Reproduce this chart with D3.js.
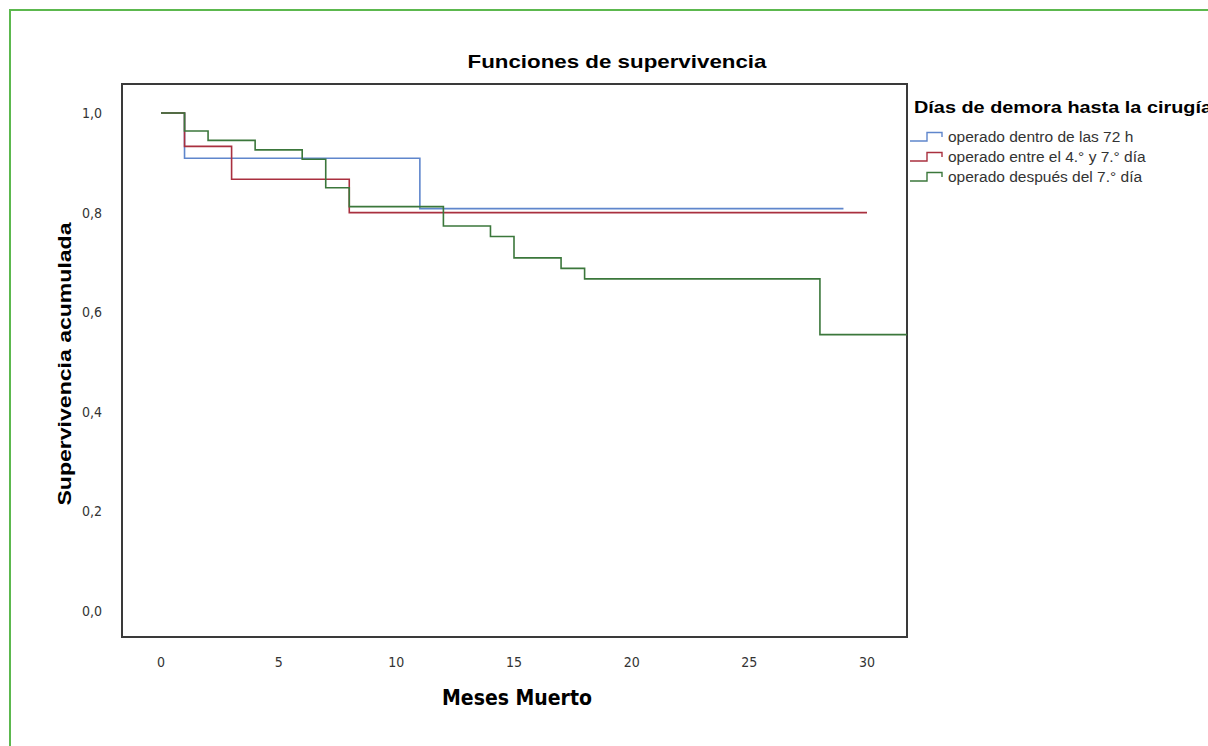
<!DOCTYPE html>
<html>
<head>
<meta charset="utf-8">
<script src="https://cdn.jsdelivr.net/npm/d3@7"></script>
<style>
body{margin:0;background:#fff;}
svg{display:block;}
text{font-family:"Liberation Sans",Arial,sans-serif;}
</style>
</head>
<body>
<svg id="chart" width="1208" height="746"></svg>
<script>
// survival data (months, cumulative survival)
var blueTimes=[0,1,11,29];
var blueSurv=[1,0.909,0.808,0.808];
var redTimes=[0,1,3,8,30];
var redSurv=[1,0.933,0.867,0.800,0.800];
var greenTimes=[0,1,2,4,6,7,8,12,14,15,17,18,28,31.7];
var greenSurv=[1,0.964,0.945,0.926,0.907,0.850,0.812,0.773,0.752,0.709,0.688,0.667,0.555,0.555];

var groupNames=['operado dentro de las 72 h','operado entre el 4.° y 7.° día','operado después del 7.° día'];
var groupColors=['#5f86cc','#a9303f','#3b773b'];
var xTicks=[0,5,10,15,20,25,30];
var yTicks=[0,0.2,0.4,0.6,0.8,1.0];

var svg=d3.select('#chart');

// green outer frame
svg.append('rect')
    .attr('x',10).attr('y',10)
    .attr('width',1260).attr('height',800)
    .attr('fill','none')
    .attr('stroke','#5cb84e')
    .attr('stroke-width',2);

var x=d3.scaleLinear().domain([0,30]).range([161,867]);
var y=d3.scaleLinear().domain([0,1]).range([611,113]);

var pLeft=122,pRight=907,pTop=84,pBottom=637;

// plot frame
svg.append('rect')
    .attr('x',pLeft).attr('y',pTop)
    .attr('width',pRight-pLeft).attr('height',pBottom-pTop)
    .attr('fill','none')
    .attr('stroke','#3a3a3a')
    .attr('stroke-width',2);

// tick labels
var fmt=function(d){return d3.format('.1f')(d).replace('.',',');};
svg.append('g').selectAll('text')
    .data(xTicks)
    .enter()
    .append('text')
    .attr('x',function(d){return x(d);})
    .attr('y',667)
    .attr('text-anchor','middle')
    .style('font-family','"Liberation Sans Narrow","DejaVu Sans Condensed",sans-serif')
    .style('font-size','14px')
    .attr('fill','#333')
    .text(function(d){return d;});

svg.append('g').selectAll('text')
    .data(yTicks)
    .enter()
    .append('text')
    .attr('x',102)
    .attr('y',function(d){return y(d)+5;})
    .attr('text-anchor','end')
    .style('font-family','"Liberation Sans Narrow","DejaVu Sans Condensed",sans-serif')
    .style('font-size','14px')
    .attr('fill','#333')
    .text(fmt);

// curves
var line=d3.line()
    .x(function(d){return x(d[0]);})
    .y(function(d){return y(d[1]);})
    .curve(d3.curveStepAfter);

var series=[d3.zip(blueTimes,blueSurv),d3.zip(redTimes,redSurv),d3.zip(greenTimes,greenSurv)];
svg.append('g').selectAll('path')
    .data(series)
    .enter()
    .append('path')
    .attr('d',line)
    .attr('fill','none')
    .attr('stroke',function(d,i){return groupColors[i];})
    .attr('stroke-width',1.6);

// titles
svg.append('text')
    .attr('x',617).attr('y',68)
    .attr('text-anchor','middle')
    .attr('textLength',299)
    .attr('lengthAdjust','spacingAndGlyphs')
    .style('font-size','19px')
    .style('font-weight','bold')
    .text('Funciones de supervivencia');

svg.append('text')
    .attr('transform','translate(71,364) rotate(-90)')
    .attr('text-anchor','middle')
    .attr('textLength',283)
    .attr('lengthAdjust','spacingAndGlyphs')
    .style('font-size','19px')
    .style('font-weight','bold')
    .text('Supervivencia acumulada');

svg.append('text')
    .attr('x',517).attr('y',705)
    .attr('text-anchor','middle')
    .style('font-family','"Liberation Sans Narrow","DejaVu Sans Condensed",sans-serif')
    .style('font-size','21px')
    .style('font-weight','bold')
    .text('Meses Muerto');

// legend
svg.append('text')
    .attr('x',914).attr('y',113)
    .attr('textLength',298)
    .attr('lengthAdjust','spacingAndGlyphs')
    .style('font-size','17px')
    .style('font-weight','bold')
    .text('Días de demora hasta la cirugía');

var leg=svg.append('g').selectAll('g')
    .data(groupNames)
    .enter()
    .append('g')
    .attr('transform',function(d,i){return 'translate(910,'+(141+i*20)+')';});

leg.append('path')
    .attr('d','M0,0H17V-8.5H32V-4')
    .attr('fill','none')
    .attr('stroke',function(d,i){return groupColors[i];})
    .attr('stroke-width',1.4);

leg.append('text')
    .attr('x',38).attr('y',1)
    .style('font-size','15.5px')
    .attr('fill','#333')
    .text(function(d){return d;});
</script>
</body>
</html>
